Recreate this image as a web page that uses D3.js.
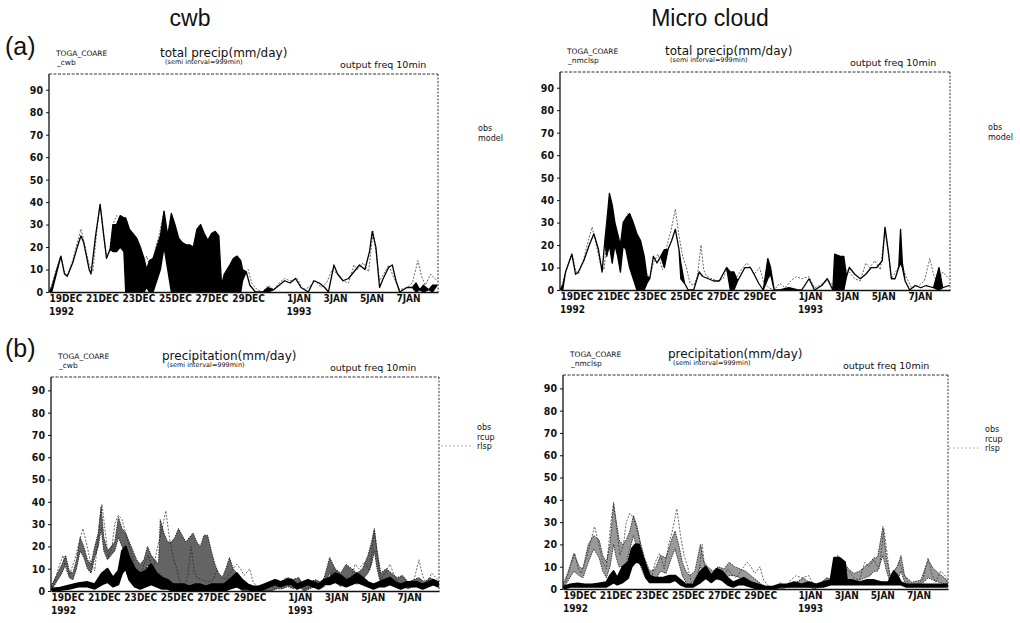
<!DOCTYPE html>
<html>
<head>
<meta charset="utf-8">
<script src="https://cdn.jsdelivr.net/npm/d3@7"></script>
<style>
  body { margin: 0; background: #fff; }
  svg { display: block; }
  text { font-family: "Liberation Sans", Arial, sans-serif; fill: #111; }
  .small { font-family: "DejaVu Sans Condensed", "DejaVu Sans", sans-serif; font-weight: bold; }
  .head { font-family: "DejaVu Sans", sans-serif; font-weight: normal; }
</style>
</head>
<body>
<svg id="chart" width="1020" height="623"></svg>
<script>
// ── data: days after 19 Dec 1992 00Z ──
const START = Date.UTC(1992, 11, 19);
const END_DAY = 21.3;

const xTickDates = ["1992-12-19", "1992-12-21", "1992-12-23", "1992-12-25", "1992-12-27",
                    "1992-12-29", "1993-01-01", "1993-01-03", "1993-01-05", "1993-01-07"];
const yearTicks = ["1992-12-19", "1993-01-01"];
const yTicks = [0, 10, 20, 30, 40, 50, 60, 70, 80, 90];

// observed precipitation [day, mm/day]
const obsPrecip = [
  [0.0,0],[0.15,3],[0.4,10],[0.65,16],[0.85,9],[1.0,7],[1.3,14],[1.55,22],[1.75,28],[1.9,23],
  [2.2,12],[2.4,9],[2.65,30],[2.8,39],[3.0,25],[3.15,15],[3.35,20],[3.5,30],[3.7,34],[3.9,32],
  [4.1,26],[4.3,20],[4.5,14],[4.7,8],[4.9,5],[5.1,12],[5.35,16],[5.6,9],[5.85,20],[6.05,26],
  [6.3,36],[6.5,24],[6.7,15],[6.9,10],[7.1,3],[7.3,2],[7.5,6],[7.7,20],[7.85,9],[8.0,6],
  [8.3,5],[8.6,4],[8.9,5],[9.1,9],[9.3,7],[9.6,5],[9.9,9],[10.2,12],[10.4,10],[10.6,7],
  [10.9,10],[11.1,4],[11.4,1],[11.7,0],[12.0,3],[12.3,1],[12.6,4],[12.9,6],[13.2,5],[13.6,6],
  [13.9,1],[14.2,2],[14.6,5],[14.9,2],[15.2,4],[15.5,10],[15.8,8],[16.1,5],[16.4,4],[16.7,12],
  [16.9,10],[17.2,13],[17.5,9],[17.75,27],[17.9,18],[18.1,5],[18.4,9],[18.6,12],[18.9,6],[19.2,1],
  [19.6,2],[19.9,4],[20.2,14],[20.4,7],[20.6,3],[20.9,8],[21.25,5]
];

// model total precip, range of the 10-min output [day, low, high]
const modelCwb = [
  [0.0,0,0],[0.15,0,2],[0.4,8,9],[0.65,16,16],[0.85,8,8],[1.0,7,7],[1.3,13,13],[1.55,20,20],
  [1.75,25,25],[1.9,22,22],[2.2,10,10],[2.3,8,8],[2.55,25,25],[2.8,39,39],[3.0,25,25],[3.15,15,15],
  [3.35,19,19],[3.5,18,30],[3.7,18,30],[3.9,20,34],[4.1,18,33],[4.2,0,33],[4.4,0,28],[4.6,0,26],
  [4.8,0,24],[5.0,0,20],[5.2,0,15],[5.35,2,10],[5.5,0,14],[5.7,0,15],[5.9,5,20],[6.1,10,25],
  [6.3,20,36],[6.5,10,25],[6.7,0,35],[6.9,0,30],[7.1,0,24],[7.3,0,22],[7.5,0,21],[7.7,0,21],
  [7.9,0,20],[8.1,0,28],[8.3,0,30],[8.5,0,26],[8.7,0,23],[8.9,0,26],[9.1,0,27],[9.3,0,25],
  [9.45,0,3],[9.6,0,8],[9.75,0,10],[9.9,0,12],[10.1,0,15],[10.3,0,16],[10.5,0,14],[10.6,5,10],
  [10.8,9,9],[11.0,3,3],[11.3,0,0],[11.7,0,0],[12.0,0,2],[12.3,1,1],[12.6,3,3],[12.9,5,5],
  [13.2,4,4],[13.5,6,6],[13.8,2,2],[14.2,0,0],[14.5,5,5],[14.8,4,4],[15.1,2,2],[15.3,0,0],
  [15.6,12,12],[15.8,8,8],[16.1,5,5],[16.4,6,6],[16.7,9,9],[17.0,12,12],[17.3,10,10],[17.55,18,18],
  [17.7,27,27],[17.9,20,20],[18.1,2,2],[18.3,6,6],[18.6,11,11],[18.8,12,12],[19.0,5,5],[19.2,0,0],
  [19.6,2,2],[19.9,2,2],[20.1,0,4],[20.3,1,1],[20.5,0,3],[20.8,1,1],[21.0,0,3],[21.25,3,3]
];

const modelMicro = [
  [0.0,0,0],[0.15,0,2],[0.3,8,8],[0.65,16,16],[0.85,7,7],[1.0,8,8],[1.3,13,13],[1.6,20,20],
  [1.85,25,25],[2.1,18,18],[2.3,8,8],[2.45,22,22],[2.55,15,30],[2.7,20,43],[2.85,12,38],[3.0,20,30],
  [3.15,15,25],[3.3,8,20],[3.45,20,30],[3.6,18,32],[3.8,10,34],[4.0,5,30],[4.2,0,25],[4.4,0,22],
  [4.6,0,15],[4.75,3,6],[4.9,5,5],[5.1,15,15],[5.3,12,12],[5.5,15,15],[5.7,10,18],[5.9,18,18],
  [6.1,22,22],[6.3,27,27],[6.5,18,18],[6.6,5,12],[6.8,3,3],[7.0,0,0],[7.3,0,0],[7.6,8,8],
  [7.8,6,6],[8.1,5,5],[8.4,4,4],[8.7,4,4],[8.9,7,7],[9.1,10,10],[9.3,0,8],[9.5,0,8],
  [9.7,4,4],[9.9,7,7],[10.1,10,10],[10.4,10,10],[10.6,7,7],[10.85,3,3],[11.1,0,0],[11.35,5,14],
  [11.5,7,10],[11.7,0,0],[12.0,0,0],[12.5,0,1],[13.0,0,0],[13.2,0,0],[13.6,5,5],[13.9,0,0],
  [14.3,2,2],[14.6,5,5],[14.9,0,0],[15.0,0,16],[15.3,0,15],[15.5,0,15],[15.65,6,6],[15.8,10,10],
  [16.1,7,7],[16.4,5,5],[16.7,7,7],[17.0,10,10],[17.3,10,10],[17.6,13,13],[17.75,28,28],[17.95,16,16],
  [18.1,5,5],[18.3,5,5],[18.5,10,10],[18.6,12,27],[18.7,10,12],[18.85,4,4],[19.1,0,0],[19.4,2,2],
  [19.7,1,1],[20.0,2,2],[20.4,1,1],[20.7,0,10],[20.9,1,1],[21.25,2,2]
];

// convective (rcup) and large-scale (rlsp) precip [day, low, high]
const rcupCwb = [
  [0,0,1],[0.5,0.5,1.5],[1.0,1,2.5],[1.5,2,3.5],[2.0,2,4],[2.4,1,3],[2.8,3,8],[3.1,4,10],
  [3.4,2,6],[3.7,3,9],[3.9,8,18],[4.1,10,20],[4.3,5,15],[4.6,2,10],[4.9,1,8],[5.2,2,9],
  [5.5,3,12],[5.8,2,8],[6.1,1,6],[6.4,1,5],[6.7,0,3],[7.0,0,3],[7.3,0,3],[7.6,0,2],
  [7.9,0,3],[8.2,0,3],[8.5,0,2],[8.8,0,3],[9.1,0,3],[9.5,0,3],[9.8,1,5],[10.2,2,8],
  [10.5,1,5],[10.8,1,3],[11.1,0,2],[11.4,0,2],[11.7,1,3],[12.0,2,4],[12.3,3,5],[12.6,2,4],
  [12.9,3,5],[13.2,3,5],[13.5,1,3],[13.8,2,4],[14.1,3,5],[14.4,2,4],[14.7,1,3],[15.0,3,5],
  [15.3,3,6],[15.6,4,8],[15.9,3,7],[16.2,2,5],[16.5,3,6],[16.8,4,8],[17.1,3,6],[17.4,2,4],
  [17.7,1,3],[18.0,2,4],[18.3,2,5],[18.6,3,6],[18.9,2,4],[19.2,1,3],[19.5,2,4],[19.8,2,4],
  [20.1,2,4],[20.4,1,3],[20.7,2,4],[21.0,3,5],[21.25,2,4]
];

const rlspCwb = [
  [0.0,0,2],[0.3,4,7],[0.6,8,12],[0.8,12,16],[1.0,6,9],[1.2,5,8],[1.4,10,14],[1.6,18,24],
  [1.8,15,20],[2.0,10,14],[2.2,8,12],[2.4,15,20],[2.6,20,26],[2.75,28,38],[2.9,18,24],[3.1,14,18],
  [3.3,16,20],[3.5,18,22],[3.7,24,33],[3.9,20,28],[4.1,15,26],[4.3,10,22],[4.5,6,18],[4.7,4,14],
  [4.9,3,12],[5.1,6,14],[5.3,12,20],[5.5,10,16],[5.7,8,14],[5.9,6,12],[6.0,8,32],[6.2,4,26],
  [6.4,3,22],[6.6,2,22],[6.8,2,24],[7.0,2,28],[7.2,2,25],[7.4,2,22],[7.6,2,24],[7.8,2,26],
  [8.0,2,22],[8.2,2,20],[8.4,2,25],[8.6,1,25],[8.8,1,18],[9.0,1,12],[9.2,0,8],[9.4,0,6],
  [9.6,2,10],[9.8,6,15],[10.0,3,10],[10.2,2,8],[10.5,0,4],[10.8,0,2],[11.2,0,1],[11.5,0,1],
  [11.8,0,2],[12.1,0,3],[12.4,1,5],[12.7,1,4],[13.0,2,6],[13.3,1,5],[13.6,2,6],[13.9,0,2],
  [14.2,1,4],[14.5,2,5],[14.8,1,4],[15.0,2,6],[15.3,8,15],[15.6,4,10],[15.9,2,8],[16.2,6,12],
  [16.5,5,10],[16.8,3,8],[17.1,5,10],[17.4,8,16],[17.6,12,22],[17.75,18,28],[17.9,10,18],[18.1,3,8],
  [18.4,4,10],[18.7,3,8],[19.0,2,6],[19.3,2,7],[19.6,1,4],[19.9,2,5],[20.2,3,6],[20.5,2,4],
  [20.8,3,6],[21.25,2,4]
];

const rcupMicro = [
  [0,0,1],[0.4,1,2],[0.8,1,2.5],[1.2,1,2],[1.6,1,2],[2.0,1,2.5],[2.4,1,3],[2.6,2,6],
  [2.8,3,8],[3.0,2,5],[3.3,3,10],[3.6,5,12],[3.8,10,18],[4.0,12,20],[4.2,12,20],[4.4,10,15],
  [4.6,5,10],[4.8,3,6],[5.1,3,5],[5.5,3,5],[5.9,3,6],[6.2,4,6],[6.5,2,4],[6.8,1,2],
  [7.2,1,2],[7.6,3,8],[7.9,5,10],[8.2,3,6],[8.5,5,9],[8.8,4,8],[9.1,2,5],[9.4,1,3],
  [9.7,2,4],[10.0,2,5],[10.4,1,3],[10.8,0,2],[11.2,0,1],[11.6,0,1],[12.0,1,2],[12.4,1,2],
  [12.8,1,3],[13.2,1,2],[13.6,1,3],[14.0,1,2],[14.4,1,3],[14.8,2,4],[15.0,2,14],[15.3,2,14],
  [15.6,2,12],[15.7,2,4],[16.0,2,4],[16.4,2,3],[16.8,2,4],[17.2,2,4],[17.6,2,3],[18.0,2,3],
  [18.3,2,8],[18.5,2,6],[18.7,2,3],[19.0,1,2],[19.5,1,2],[20.0,1,2],[20.5,1,2],[21.0,1,2],
  [21.25,1,2]
];

const rlspMicro = [
  [0,0,2],[0.3,4,8],[0.6,8,16],[0.9,6,10],[1.1,5,9],[1.4,12,20],[1.7,18,24],[2.0,14,22],
  [2.2,8,15],[2.4,5,12],[2.6,10,20],[2.8,20,38],[2.95,14,30],[3.1,10,22],[3.3,10,20],[3.5,12,22],
  [3.7,18,26],[3.9,24,33],[4.1,18,28],[4.3,10,20],[4.5,6,14],[4.8,3,8],[5.1,4,9],[5.4,8,15],
  [5.7,7,14],[6.0,14,22],[6.2,18,26],[6.4,12,20],[6.6,6,12],[6.8,3,8],[7.0,2,6],[7.3,4,8],
  [7.6,10,20],[7.8,6,12],[8.0,5,10],[8.3,4,8],[8.6,6,10],[8.9,4,9],[9.2,6,12],[9.5,6,10],
  [9.8,5,9],[10.1,4,8],[10.4,3,6],[10.7,2,4],[11.0,1,2],[11.3,0,1],[11.7,0,1],[12.1,0,2],
  [12.5,1,2],[12.9,1,3],[13.3,2,5],[13.6,1,3],[13.9,0,1],[14.3,1,3],[14.6,2,5],[14.9,2,4],
  [15.2,6,15],[15.5,5,12],[15.8,4,9],[16.1,3,7],[16.4,4,8],[16.7,5,10],[17.0,6,12],[17.2,8,14],
  [17.4,8,14],[17.7,15,28],[17.9,8,14],[18.1,3,6],[18.5,4,10],[18.7,8,15],[18.9,3,6],[19.3,1,3],
  [19.8,2,4],[20.2,5,13],[20.5,4,9],[20.8,3,7],[21.25,2,4]
];

// ── helpers ──
const svg = d3.select("#chart");
const dayToDate = d => new Date(START + d * 864e5);
const parseDay = d3.utcParse("%Y-%m-%d");
const fmtTick = d => d3.utcFormat("%-d%b")(d).toUpperCase();

function drawPanel(p) {
  const x = d3.scaleUtc().domain([dayToDate(0), dayToDate(END_DAY)]).range([p.left, p.right]);
  const y = d3.scaleLinear().domain([0, p.yMax]).range([p.bottom, p.top]);
  const g = svg.append("g");

  g.append("clipPath").attr("id", p.id + "-clip")
    .append("rect")
    .attr("x", p.left).attr("y", p.top)
    .attr("width", p.right - p.left).attr("height", p.bottom - p.top);

  const plot = g.append("g").attr("clip-path", `url(#${p.id}-clip)`);

  const band = d3.area()
    .x(d => x(dayToDate(d[0])))
    .y0(d => y(d[1]))
    .y1(d => y(d[2]));
  const line = d3.line()
    .x(d => x(dayToDate(d[0])))
    .y(d => y(d[1]));

  // ── series ──
  p.series.forEach(s => {
    if (s.kind === "band") {
      plot.append("path")
        .datum(s.data)
        .attr("d", band)
        .attr("fill", s.color)
        .attr("fill-opacity", s.opacity)
        .attr("stroke", s.color)
        .attr("stroke-width", s.width)
        .attr("stroke-dasharray", s.dash || null)
        .attr("stroke-linejoin", "round");
    } else {
      plot.append("path")
        .datum(s.data)
        .attr("d", line)
        .attr("fill", "none")
        .attr("stroke", s.color)
        .attr("stroke-width", s.width)
        .attr("stroke-dasharray", s.dash || null);
    }
  });

  // ── frame: solid left / bottom, dotted top / right ──
  g.append("line")
    .attr("x1", p.left).attr("y1", p.top).attr("x2", p.right).attr("y2", p.top)
    .attr("stroke", "#333").attr("stroke-width", 1).attr("stroke-dasharray", "3,1.5");
  g.append("line")
    .attr("x1", p.right).attr("y1", p.top).attr("x2", p.right).attr("y2", p.bottom)
    .attr("stroke", "#333").attr("stroke-width", 1).attr("stroke-dasharray", "2,1.5");

  // ── y axis ──
  const yAxis = g.append("g")
    .attr("transform", `translate(${p.left},0)`)
    .call(d3.axisLeft(y).tickValues(yTicks).tickSize(3).tickSizeOuter(0).tickPadding(3));
  yAxis.select(".domain").attr("stroke", "#111").attr("stroke-width", 1.3)
    .attr("d", `M0,${p.top}V${p.bottom}`);
  yAxis.selectAll("line").attr("stroke", "#111");
  yAxis.selectAll("text")
    .attr("class", "small")
    .attr("font-size", "10.5px")
    .attr("fill", "#111");

  // ── x axis ──
  const tickDates = xTickDates.map(parseDay);
  const xAxis = g.append("g")
    .attr("transform", `translate(0,${p.bottom})`)
    .call(d3.axisBottom(x).tickValues(tickDates).tickSize(0).tickSizeOuter(0).tickPadding(4)
      .tickFormat(fmtTick));
  xAxis.select(".domain").attr("stroke", "#111").attr("stroke-width", 1.5);
  xAxis.selectAll("text")
    .attr("class", "small")
    .attr("font-size", "10px")
    .attr("text-anchor", "start")
    .attr("dy", "0.6em")
    .attr("fill", "#111");

  yearTicks.forEach(s => {
    const d = parseDay(s);
    g.append("text")
      .attr("class", "small")
      .attr("x", x(d))
      .attr("y", p.bottom + 23)
      .attr("font-size", "10px")
      .text(d3.utcFormat("%Y")(d));
  });

  // ── header texts ──
  const hx = p.left;
  g.append("text").attr("class", "head").attr("font-size", "7.5px")
    .attr("x", hx + 7).attr("y", p.top - 18).text("TOGA_COARE");
  g.append("text").attr("class", "head").attr("font-size", "7.5px")
    .attr("x", hx + 8).attr("y", p.top - 9).text(p.tag);
  g.append("text").attr("class", "head").attr("font-size", "12px")
    .attr("x", hx + p.titleDx).attr("y", p.top - 17).text(p.title);
  g.append("text").attr("class", "head").attr("font-size", "6.5px")
    .attr("x", hx + p.titleDx + 5).attr("y", p.top - 10).text("(semi interval=999min)");
  g.append("text").attr("class", "head").attr("font-size", "9.5px")
    .attr("x", hx + p.outDx).attr("y", p.top - 6).text("output freq 10min");

  // ── legend ──
  p.legend.forEach((name, i) => {
    g.append("text").attr("class", "head").attr("font-size", "8px")
      .attr("x", p.legX).attr("y", p.legY + i * 9.5).text(name);
  });
  if (p.legend.length === 3) {
    g.append("line")
      .attr("x1", p.legX - 36).attr("x2", p.legX - 6)
      .attr("y1", p.legY + 16).attr("y2", p.legY + 16)
      .attr("stroke", "#999").attr("stroke-width", 1).attr("stroke-dasharray", "1.5,2.5");
  }
}

// ── figure labels ──
svg.append("text").attr("x", 5).attr("y", 55).attr("font-size", "25px").text("(a)");
svg.append("text").attr("x", 5).attr("y", 357).attr("font-size", "25px").text("(b)");
svg.append("text").attr("x", 190).attr("y", 26).attr("font-size", "23px")
  .attr("text-anchor", "middle").text("cwb");
svg.append("text").attr("x", 710).attr("y", 26).attr("font-size", "23px")
  .attr("text-anchor", "middle").text("Micro cloud");

const obsStyle = { kind: "line", data: obsPrecip, color: "#666", width: 1, dash: "2,1.5" };

drawPanel({
  id: "a1", left: 49, right: 438, top: 74, bottom: 292, yMax: 97,
  tag: "_cwb", title: "total precip(mm/day)", titleDx: 111, outDx: 291,
  legend: ["obs", "model"], legX: 478, legY: 131,
  series: [
    obsStyle,
    { kind: "band", data: modelCwb, color: "#000", opacity: 1, width: 1.3 }
  ]
});

drawPanel({
  id: "a2", left: 560, right: 950, top: 72, bottom: 290, yMax: 97,
  tag: "_nmclsp", title: "total precip(mm/day)", titleDx: 105, outDx: 290,
  legend: ["obs", "model"], legX: 988, legY: 130,
  series: [
    obsStyle,
    { kind: "band", data: modelMicro, color: "#000", opacity: 1, width: 1.3 }
  ]
});

drawPanel({
  id: "b1", left: 51, right: 439, top: 377, bottom: 591, yMax: 96,
  tag: "_cwb", title: "precipitation(mm/day)", titleDx: 111, outDx: 279,
  legend: ["obs", "rcup", "rlsp"], legX: 477, legY: 430,
  series: [
    obsStyle,
    { kind: "band", data: rlspCwb, color: "#222", opacity: 0.7, width: 1, dash: "1.5,1" },
    { kind: "band", data: rcupCwb, color: "#000", opacity: 1, width: 2 }
  ]
});

drawPanel({
  id: "b2", left: 563, right: 948, top: 375, bottom: 589, yMax: 96,
  tag: "_nmclsp", title: "precipitation(mm/day)", titleDx: 105, outDx: 280,
  legend: ["obs", "rcup", "rlsp"], legX: 985, legY: 432,
  series: [
    obsStyle,
    { kind: "band", data: rlspMicro, color: "#333", opacity: 0.5, width: 1, dash: "1.5,1" },
    { kind: "band", data: rcupMicro, color: "#000", opacity: 1, width: 2 }
  ]
});
</script>
</body>
</html>
